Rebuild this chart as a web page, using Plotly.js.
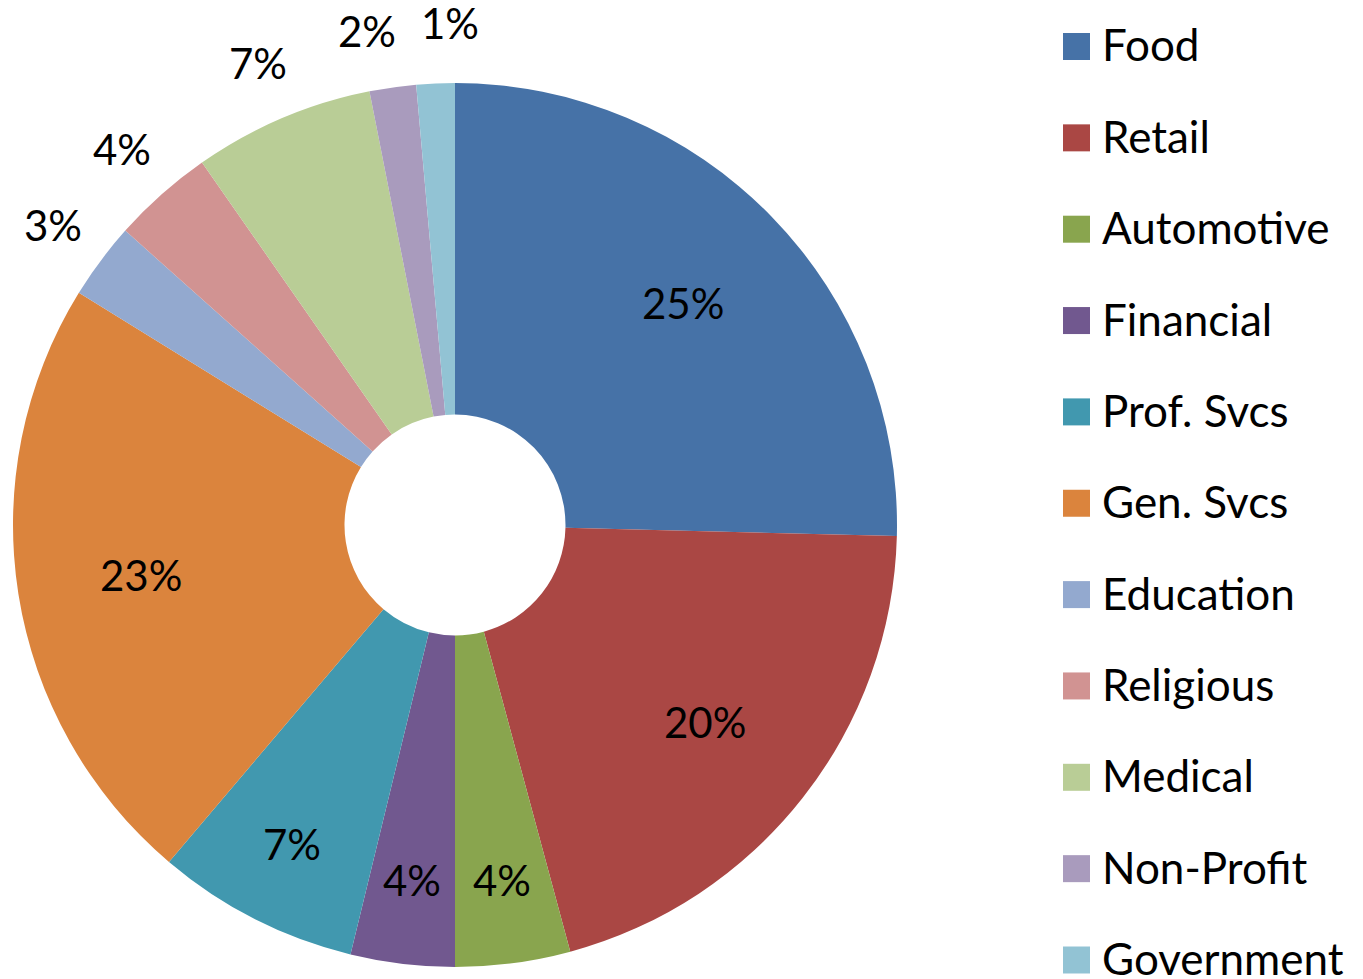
<!DOCTYPE html>
<html>
<head>
<meta charset="utf-8">
<script src="https://cdn.plot.ly/plotly-3.0.1.min.js"></script>
<style>html,body{margin:0;padding:0;background:#fff;}#chart{width:1363px;height:979px;}</style>
</head>
<body>
<div id="chart"></div>
<script>
const categories = ["Food","Retail","Automotive","Financial","Prof. Svcs","Gen. Svcs","Education","Religious","Medical","Non-Profit","Government"];
const shares = [25.4, 20.4, 4.2, 3.8, 7.4, 22.6, 2.8, 3.7, 6.6, 1.7, 1.4];
const colors = ["#4672A7","#AA4744","#89A54E","#71588F","#4198AF","#DB843D","#93A9CF","#D19392","#B9CD96","#A99BBD","#92C3D4"];
const labelPlacement = ["inside","inside","inside","inside","inside","inside","outside","outside","outside","outside","outside"];

const W = 1363, H = 979;
const FONT = "Lato, 'Open Sans', sans-serif";
const FS = 42, LFS = 44;

// pie domain (paper fractions; margins are zero)
const dom = {x: [13/W, 897/W], y: [1 - 967/H, 1 - 83/H]};
const HOLE = 0.25;

const trace = {
  type: "pie",
  labels: categories,
  values: shares,
  sort: false,
  direction: "clockwise",
  rotation: 0,
  hole: HOLE,
  marker: {colors: colors, line: {width: 0}},
  textinfo: "none",
  showlegend: false,
  domain: dom,
  hoverinfo: "label+percent"
};

// --- percentage labels, placed from each slice's own angle ---
const total = shares.reduce((a, b) => a + b, 0);
const cxp = (dom.x[0] + dom.x[1]) / 2 * W;
const cyp = (1 - (dom.y[0] + dom.y[1]) / 2) * H;
const R = Math.min((dom.x[1] - dom.x[0]) * W, (dom.y[1] - dom.y[0]) * H) / 2;

let cum = 0;
const mids = shares.map(v => { const m = (cum + v / 2) / total * 360; cum += v; return m; });

// spread outside labels that would collide
const outIdx = labelPlacement.map((p, i) => p === "outside" ? i : -1).filter(i => i >= 0);
const outAng = outIdx.map(i => mids[i]);
const minGap = 9.5;
for (let k = outAng.length - 1; k > 0; k--) {
  const gap = outAng[k] - outAng[k - 1];
  if (gap < minGap) { const d = (minGap - gap) / 2; outAng[k] += d; outAng[k - 1] -= d; }
}
const angleFor = i => { const k = outIdx.indexOf(i); return k >= 0 ? outAng[k] : mids[i]; };

const annotations = [];
shares.forEach((v, i) => {
  const pct = Math.round(v / total * 100) + "%";
  let r;
  if (labelPlacement[i] === "outside") r = R * 1.136;
  else r = (v / total >= 0.1) ? R * 0.72 : R * 0.81;
  const a = angleFor(i) * Math.PI / 180;
  const px = cxp + r * Math.sin(a), py = cyp - r * Math.cos(a);
  annotations.push({xref: "paper", yref: "paper", x: px / W, y: 1 - py / H,
    xanchor: "center", yanchor: "middle", showarrow: false, text: pct,
    font: {family: FONT, size: FS, color: "#000"}});
});

// --- legend built from the category and colour arrays ---
const legendTop = 46.5, legendStep = 91.35, sw = 27;
const shapes = [];
categories.forEach((c, i) => {
  const cy = legendTop + i * legendStep;
  shapes.push({type: "rect", xref: "paper", yref: "paper",
    x0: 1063 / W, x1: (1063 + sw) / W,
    y0: 1 - (cy + sw / 2) / H, y1: 1 - (cy - sw / 2) / H,
    fillcolor: colors[i], line: {width: 0}});
  annotations.push({xref: "paper", yref: "paper", x: 1100 / W, y: 1 - (cy - 2) / H,
    xanchor: "left", yanchor: "middle", showarrow: false, text: c,
    font: {family: FONT, size: LFS, color: "#000"}});
});

const layout = {
  width: W, height: H,
  margin: {l: 0, r: 0, t: 0, b: 0},
  paper_bgcolor: "#fff",
  showlegend: false,
  shapes: shapes,
  annotations: annotations
};

Plotly.newPlot("chart", [trace], layout, {displayModeBar: false, staticPlot: true});
</script>
</body>
</html>
